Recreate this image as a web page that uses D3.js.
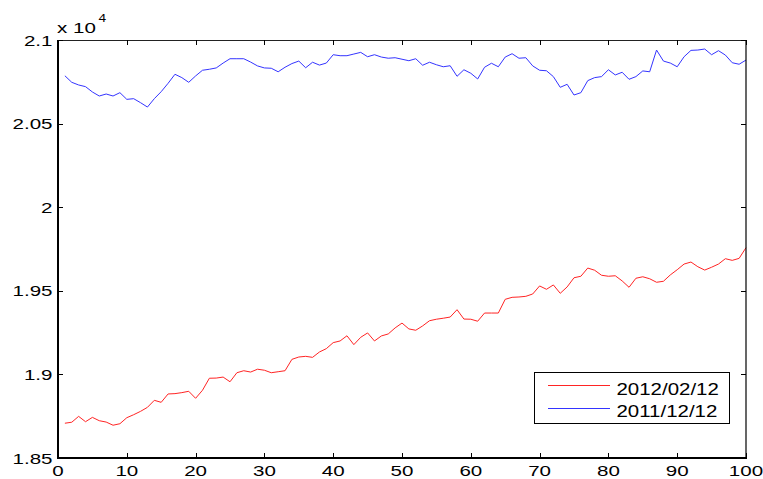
<!DOCTYPE html>
<html>
<head>
<meta charset="utf-8">
<script src="https://cdn.jsdelivr.net/npm/d3@7"></script>
<style>
  html, body { margin: 0; padding: 0; background: #fff; }
  svg { display: block; }
  text { font-family: Arial, "Liberation Sans", sans-serif; fill: #000; }
</style>
</head>
<body>
<svg id="chart" width="763" height="479"></svg>
<script>
// ---- data ----
const xValues = d3.range(1, 101);
const series2012_02_12 = [
  18708, 18714, 18749, 18717, 18743, 18723, 18715, 18696, 18705, 18741,
  18759, 18779, 18803, 18845, 18833, 18883, 18885, 18891, 18899, 18857,
  18905, 18977, 18978, 18984, 18956, 19010, 19022, 19014, 19031, 19025,
  19010, 19016, 19022, 19090, 19104, 19108, 19102, 19134, 19154, 19190,
  19200, 19231, 19178, 19222, 19248, 19200, 19230, 19242, 19278, 19307,
  19272, 19264, 19290, 19321, 19330, 19336, 19343, 19387, 19331, 19330,
  19318, 19367, 19367, 19367, 19449, 19461, 19463, 19467, 19481, 19529,
  19509, 19535, 19485, 19523, 19578, 19587, 19636, 19623, 19593, 19587,
  19590, 19559, 19521, 19575, 19584, 19572, 19551, 19557, 19595, 19626,
  19660, 19672, 19644, 19624, 19641, 19660, 19692, 19682, 19694, 19758
];
const series2011_12_12 = [
  20786, 20747, 20731, 20721, 20689, 20665, 20677, 20665, 20685, 20645,
  20649, 20625, 20599, 20649, 20691, 20741, 20795, 20775, 20747, 20785,
  20819, 20825, 20833, 20862, 20888, 20888, 20888, 20868, 20845, 20833,
  20831, 20810, 20837, 20859, 20874, 20834, 20867, 20850, 20862, 20912,
  20906, 20906, 20916, 20926, 20900, 20912, 20898, 20891, 20894, 20885,
  20876, 20888, 20849, 20867, 20852, 20840, 20846, 20783, 20822, 20801,
  20767, 20837, 20861, 20840, 20898, 20918, 20891, 20894, 20845, 20819,
  20816, 20781, 20717, 20735, 20671, 20685, 20757, 20775, 20781, 20822,
  20791, 20807, 20765, 20781, 20815, 20810, 20940, 20874, 20862, 20840,
  20900, 20938, 20940, 20946, 20912, 20936, 20910, 20864, 20855, 20880
];
const seriesNames = ["2012/02/12", "2011/12/12"];
const seriesColors = ["#ff2424", "#3434ff"];
const xTicks = [0, 10, 20, 30, 40, 50, 60, 70, 80, 90, 100];
const yTicks = [18500, 19000, 19500, 20000, 20500, 21000];
const yTickLabels = ["1.85", "1.9", "1.95", "2", "2.05", "2.1"];
const exponentBase = "x 10";
const exponentPower = "4";

// ---- layout ----
const L = 58, R = 746, T = 40, B = 458;
const SX = 1.37; // horizontal text stretch of the reference

const svg = d3.select("#chart");
const x = d3.scaleLinear().domain([0, 100]).range([L, R]);
const y = d3.scaleLinear().domain([18500, 21000]).range([B, T]);

// lines
const line = d3.line().x((d, i) => x(xValues[i])).y(d => y(d));
[series2012_02_12, series2011_12_12].forEach((s, k) => {
  svg.append("path").datum(s)
    .attr("d", line)
    .attr("fill", "none")
    .attr("stroke", seriesColors[k])
    .attr("stroke-width", 1)
    .attr("stroke-linejoin", "round");
});

// box lines
svg.append("line").attr("x1", L).attr("x2", R).attr("y1", T + 0.5).attr("y2", T + 0.5)
  .attr("stroke", "#222").attr("stroke-width", 1);
svg.append("line").attr("x1", R).attr("x2", R).attr("y1", T).attr("y2", B)
  .attr("stroke", "#000").attr("stroke-width", 1.2);
svg.append("line").attr("x1", L).attr("x2", L).attr("y1", T).attr("y2", B + 1)
  .attr("stroke", "#000").attr("stroke-width", 2);
svg.append("line").attr("x1", L - 1).attr("x2", R + 1).attr("y1", B).attr("y2", B)
  .attr("stroke", "#000").attr("stroke-width", 2);

const TL = 5;
// x ticks (bottom & top, inward)
xTicks.forEach(t => {
  const px = Math.round(x(t)) + 0.5;
  svg.append("line").attr("x1", px).attr("x2", px).attr("y1", B).attr("y2", B - TL)
    .attr("stroke", "#000").attr("stroke-width", 1);
  svg.append("line").attr("x1", px).attr("x2", px).attr("y1", T).attr("y2", T + TL)
    .attr("stroke", "#000").attr("stroke-width", 1);
  svg.append("text")
    .attr("transform", `translate(${x(t)},475.8) scale(${SX},1)`)
    .attr("text-anchor", "middle")
    .attr("font-size", 15)
    .text(t);
});
// y ticks (left & right, inward)
yTicks.forEach((t, i) => {
  const py = Math.round(y(t)) + 0.5;
  svg.append("line").attr("x1", L).attr("x2", L + TL).attr("y1", py).attr("y2", py)
    .attr("stroke", "#000").attr("stroke-width", 1);
  svg.append("line").attr("x1", R).attr("x2", R - TL).attr("y1", py).attr("y2", py)
    .attr("stroke", "#000").attr("stroke-width", 1);
  svg.append("text")
    .attr("transform", `translate(52.5,${y(t) + 5.5}) scale(${SX},1)`)
    .attr("text-anchor", "end")
    .attr("font-size", 15)
    .text(yTickLabels[i]);
});

// exponent label
svg.append("text")
  .attr("transform", `translate(57,33.3) scale(${SX},1)`)
  .attr("font-size", 15)
  .text(exponentBase);
svg.append("text")
  .attr("transform", `translate(98.5,22.3) scale(${SX},1)`)
  .attr("font-size", 10)
  .text(exponentPower);

// legend
const lg = svg.append("g");
lg.append("rect").attr("x", 534.5).attr("y", 372.5).attr("width", 195).attr("height", 51)
  .attr("fill", "#fff").attr("stroke", "#000").attr("stroke-width", 1);
const legY = [385, 408];
const legBase = [394.7, 417];
seriesNames.forEach((n, k) => {
  lg.append("line").attr("x1", 548).attr("x2", 610).attr("y1", legY[k] + 0.5).attr("y2", legY[k] + 0.5)
    .attr("stroke", seriesColors[k]).attr("stroke-width", 1);
  lg.append("text")
    .attr("transform", `translate(616.5,${legBase[k]}) scale(1.24,1)`)
    .attr("font-size", 16.5)
    .text(n);
});
</script>
</body>
</html>
